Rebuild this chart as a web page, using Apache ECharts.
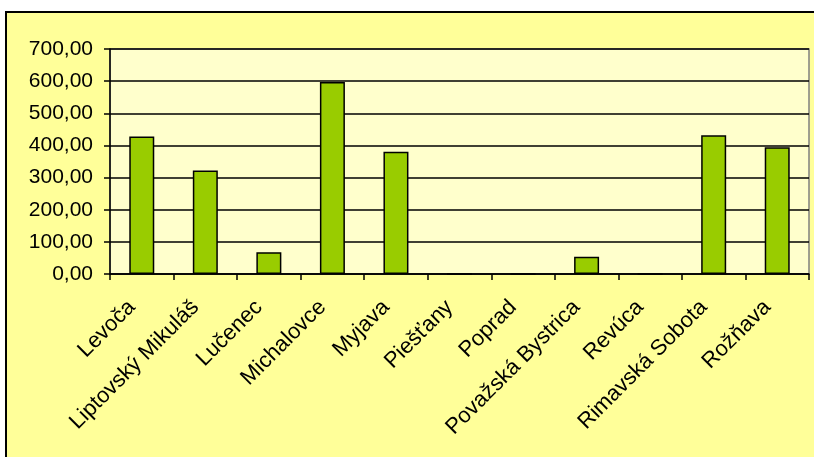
<!DOCTYPE html>
<html>
<head>
<meta charset="utf-8">
<script src="https://cdn.jsdelivr.net/npm/echarts@6/dist/echarts.min.js"></script>
<style>
  html, body { margin: 0; padding: 0; background: #ffffff; }
  #chart { width: 814px; height: 457px; }
</style>
</head>
<body>
<div id="chart"></div>
<script>
// okresy
const categories = [
  "Levoča", "Liptovský Mikuláš", "Lučenec", "Michalovce", "Myjava", "Piešťany",
  "Poprad", "Považská Bystrica", "Revúca", "Rimavská Sobota", "Rožňava"
];
const values = [428, 322, 68, 597, 380, 0, 0, 54, 0, 432, 394];
const yTicks = [0, 700, 100]; // min, max, krok

const chart = echarts.init(document.getElementById("chart"), null, { renderer: "canvas" });

const option = {
  backgroundColor: "#ffffff",
  animation: false,
  graphic: [
    {
      type: "rect",
      z: -10,
      shape: { x: 6, y: 12, width: 830, height: 470 },
      style: { fill: "#FFFF99", stroke: "#000000", lineWidth: 2 }
    }
  ],
  grid: {
    left: 110,
    top: 49,
    right: 5,
    bottom: 183,
    show: true,
    backgroundColor: "#FFFFCC",
    borderColor: "#808080",
    borderWidth: 1.5
  },
  xAxis: {
    type: "category",
    data: categories,
    axisLine: { lineStyle: { color: "#000", width: 1.5 } },
    axisTick: { show: true, length: 6, lineStyle: { color: "#000", width: 1.5 } },
    axisLabel: {
      interval: 0,
      rotate: 45,
      margin: 20,
      padding: [0, 14, 0, 0],
      color: "#000",
      fontFamily: "Liberation Sans, Arial, sans-serif",
      fontSize: 22
    }
  },
  yAxis: {
    type: "value",
    min: yTicks[0],
    max: yTicks[1],
    interval: yTicks[2],
    axisLine: { show: true, lineStyle: { color: "#000", width: 1.5 } },
    axisTick: { show: true, length: 6, lineStyle: { color: "#000", width: 1.5 } },
    splitLine: { lineStyle: { color: "#000", width: 1.5 } },
    axisLabel: {
      margin: 17,
      color: "#000",
      fontFamily: "Liberation Sans, Arial, sans-serif",
      fontSize: 21,
      formatter: v => v.toFixed(2).replace(".", ",")
    }
  },
  series: [
    {
      type: "bar",
      data: values,
      barWidth: 25,
      itemStyle: { color: "#99CC00", borderColor: "#000", borderWidth: 1.5 }
    }
  ]
};

chart.setOption(option);
</script>
</body>
</html>
